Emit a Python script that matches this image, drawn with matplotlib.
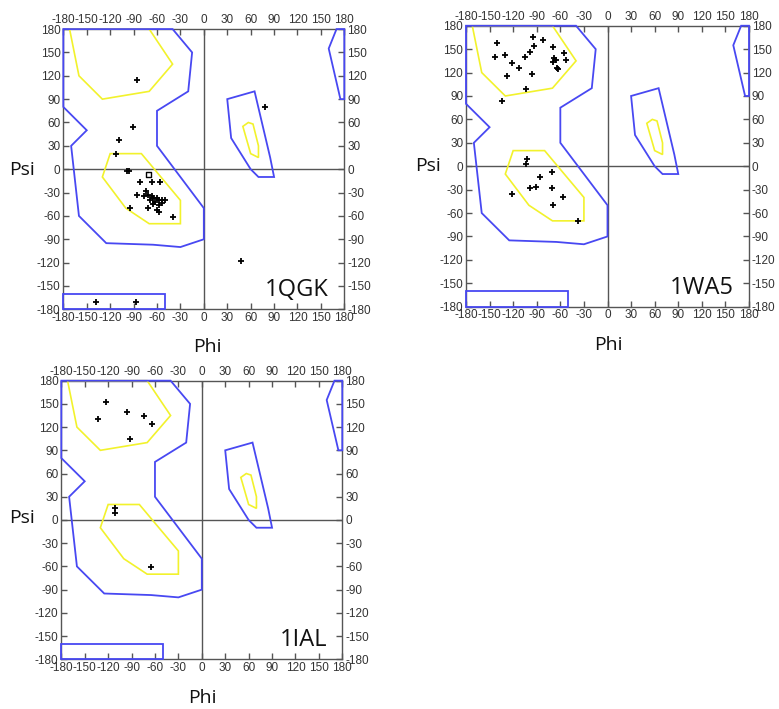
import matplotlib
matplotlib.use("Agg")
import matplotlib.pyplot as plt
import numpy as np

plt.rcParams['axes.unicode_minus'] = False

# ---- allowed-region outlines (phi, psi) ----
blue_left = [(-40, 180), (-15, 150), (-20, 100), (-60, 75), (-60, 30), (0, -50), (0, -90),
             (-30, -100), (-65, -97), (-125, -95), (-160, -60), (-170, 30), (-150, 50),
             (-180, 80), (-180, 180)]
blue_bottom = [(-180, -160), (-50, -160), (-50, -180), (-180, -180)]
blue_topright = [(170, 180), (160, 155), (175, 90), (180, 90), (180, 180)]
blue_alphaL = [(30, 90), (65, 100), (85, 15), (90, -10), (70, -10), (60, 0), (35, 40)]
yellow_beta = [(-172, 180), (-160, 120), (-130, 90), (-70, 100), (-40, 135), (-70, 180)]
yellow_alpha = [(-120, 20), (-80, 20), (-30, -40), (-30, -70), (-70, -70), (-100, -50), (-130, -10)]
yellow_alphaL = [(50, 55), (57, 60), (63, 58), (70, 30), (70, 15), (60, 20)]

ticks = [-180, -150, -120, -90, -60, -30, 0, 30, 60, 90, 120, 150, 180]

# ---- residues ----
qgk_phi = [-86, -91, -109, -112, -99, -96, -82, -66, -56, -86, -74, -71, -77, -67, -69, -65,
           -62, -60, -57, -53, -50, -65, -58, -54, -71, -60, -95, -39, -57, 79, 47, -138, -87]
qgk_psi = [114, 54, 38, 19, -2, -2, -17, -16, -16, -33, -28, -33, -35, -35, -40, -37,
           -42, -37, -40, -39, -39, -45, -46, -44, -50, -52, -50, -62, -55, 80, -118, -171, -171]
qgk_sq_phi = [-71]
qgk_sq_psi = [-7]

wa5_phi = [-141, -143, -130, -122, -112, -128, -105, -98, -95, -94, -96, -82, -69, -68, -66,
           -69, -55, -53, -64, -63, -104, -134, -103, -104, -71, -86, -91, -99, -71, -121,
           -57, -69, -38]
wa5_psi = [158, 140, 143, 132, 126, 116, 140, 146, 166, 154, 118, 162, 153, 139, 136,
           134, 145, 136, 126, 124, 99, 83, 9, 3, -8, -14, -26, -28, -28, -35,
           -40, -50, -70]

ial_phi = [-123, -133, -96, -74, -64, -92, -111, -111, -65]
ial_psi = [153, 131, 140, 134, 124, 104, 15, 9, -61]

BLUE = '#4848f2'
YELLOW = '#f2f22c'
GRAY = '#555555'

fig = plt.figure(figsize=(7.79, 7.09), dpi=100)


def panel(rect, phi, psi, name, sq_phi=None, sq_psi=None):
    ax = fig.add_axes(rect)
    ax.set_xlim(-180, 180)
    ax.set_ylim(-180, 180)
    for s in ax.spines.values():
        s.set_color(GRAY)
        s.set_linewidth(1.0)
    ax.axhline(0, color=GRAY, lw=1.0, zorder=1)
    ax.axvline(0, color=GRAY, lw=1.0, zorder=1)
    for poly in (yellow_beta, yellow_alpha, yellow_alphaL):
        p = plt.Polygon(poly, closed=True, fill=False, edgecolor=YELLOW, lw=1.2,
                        zorder=3, clip_on=False)
        ax.add_patch(p)
    for poly in (blue_left, blue_bottom, blue_topright, blue_alphaL):
        p = plt.Polygon(poly, closed=True, fill=False, edgecolor=BLUE, lw=1.3,
                        zorder=4, clip_on=False)
        ax.add_patch(p)
    ax.scatter(phi, psi, marker='+', s=22, color='black', linewidths=1.3, zorder=5)
    if sq_phi is not None:
        ax.scatter(sq_phi, sq_psi, marker='s', s=14, facecolors='none',
                   edgecolors='black', linewidths=1.0, zorder=5)
    ax.set_xticks(ticks)
    ax.set_yticks(ticks)
    ax.set_xticklabels([str(t) for t in ticks])
    ax.set_yticklabels([str(t) for t in ticks])
    ax.tick_params(direction='in', length=4, width=1.0, color=GRAY,
                   top=True, bottom=True, left=True, right=True,
                   labeltop=True, labelbottom=True, labelleft=True, labelright=True,
                   labelsize=8.5, labelcolor='#333333', pad=2)
    for lab in ax.get_xticklabels() + ax.get_yticklabels():
        lab.set_family('Liberation Sans')
    ax.text(0.945, 0.068, name, transform=ax.transAxes, ha='right', va='center',
            fontsize=17, family='Open Sans', color='#111111')
    return ax


panel([0.0813, 0.5637, 0.3607, 0.3953], qgk_phi, qgk_psi, '1QGK', qgk_sq_phi, qgk_sq_psi)
panel([0.5982, 0.5674, 0.3633, 0.3963], wa5_phi, wa5_psi, '1WA5')
panel([0.0787, 0.0701, 0.3607, 0.3930], ial_phi, ial_psi, '1IAL')

lab_kw = dict(fontsize=14, family='Open Sans', color='#111111', ha='center', va='center')
W, H = 779, 709
for (x, y, t) in [(22, 170, 'Psi'), (207, 347, 'Phi'),
                  (428, 166, 'Psi'), (608, 345, 'Phi'),
                  (22, 518, 'Psi'), (202, 698, 'Phi')]:
    fig.text(x / W, 1 - y / H, t, **lab_kw)

fig.savefig('out.png', dpi=100)
